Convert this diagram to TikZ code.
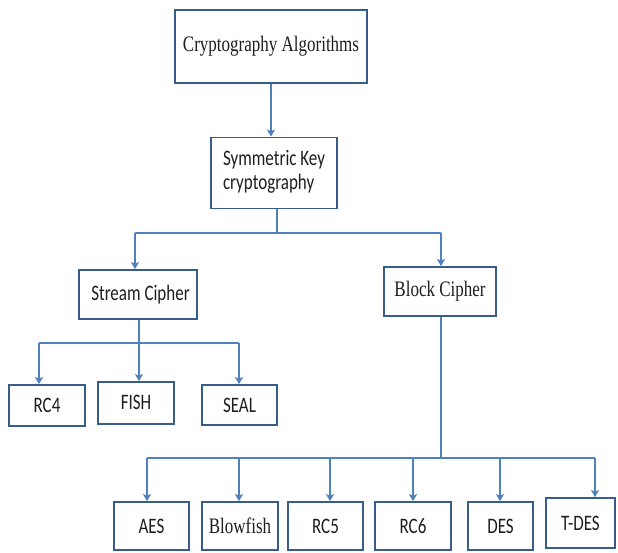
\documentclass[tikz,border=0pt]{standalone}
\usepackage{graphicx}
\usepackage{fontspec}
\setmainfont{Liberation Serif}
\newfontfamily\calfont{Carlito}
\usetikzlibrary{arrows.meta}
\definecolor{boxblue}{RGB}{56,93,138}
\definecolor{lineblue}{RGB}{79,129,189}
\definecolor{txt}{RGB}{30,30,30}
\newcommand\tallt[1]{\scalebox{1}[1.3]{#1}}
\begin{document}
\begin{tikzpicture}[x=1pt,y=-1pt,
  box/.style={draw=boxblue,line width=1.8pt,fill=white,text=txt,inner sep=0pt,font=\fontsize{17}{18}\selectfont},
  sbox/.style={box,font=\calfont\fontsize{17}{18}\selectfont},
  conn/.style={draw=lineblue,line width=2pt},
  arr/.style={conn,-{Stealth[length=7pt,width=8pt,inset=1.5pt]}}]
\useasboundingbox (0,0) rectangle (618,553);
% nodes
\node[box,minimum width=192pt,minimum height=73pt] (top) at (271,46.5) {\raisebox{3pt}{\tallt{Cryptography Algorithms}}};
\node[sbox,minimum width=126pt,minimum height=71pt] (sym) at (274,173) {\tallt{\begin{tabular}{@{}l@{}}Symmetric Key\\cryptography\end{tabular}}};
\node[sbox,minimum width=118pt,minimum height=49pt] (stream) at (138,294.5) {\hspace{5pt}\tallt{Stream Cipher}};
\node[box,minimum width=112pt,minimum height=49pt] (block) at (440,291.5) {\raisebox{4pt}{\tallt{Block Cipher}}};
\node[sbox,minimum width=76pt,minimum height=41pt] (rc4) at (47,405.5) {\tallt{RC4}};
\node[sbox,minimum width=76pt,minimum height=42pt] (fish) at (136,403) {\raisebox{2pt}{\tallt{FISH}}};
\node[sbox,minimum width=75pt,minimum height=40pt] (seal) at (239.5,405) {\tallt{SEAL}};
\node[sbox,minimum width=75pt,minimum height=48pt] (aes) at (151.5,526) {\tallt{AES}};
\node[box,minimum width=76pt,minimum height=48pt] (blow) at (240,526) {\tallt{Blowfish}};
\node[sbox,minimum width=75pt,minimum height=48pt] (rc5) at (325.5,526) {\tallt{RC5}};
\node[sbox,minimum width=76pt,minimum height=48pt] (rc6) at (413,526) {\tallt{RC6}};
\node[sbox,minimum width=65pt,minimum height=48pt] (des) at (500.5,526) {\tallt{DES}};
\node[sbox,minimum width=69pt,minimum height=50pt] (tdes) at (580.5,523) {\tallt{T-DES}};
% junction coordinates
\coordinate (jS) at (277,233);
\coordinate (jL) at (135,233);
\coordinate (jR) at (441,233);
\coordinate (kS) at (139,343);
\coordinate (k1) at (39,343);
\coordinate (k3) at (239,343);
\coordinate (mB) at (441,458);
\coordinate (m1) at (147,458);
\coordinate (m2) at (239,458);
\coordinate (m3) at (330,458);
\coordinate (m4) at (413,458);
\coordinate (m5) at (500,458);
\coordinate (m6) at (595,458);
% connectors
\draw[arr] (top.south) -- (top.south |- sym.north);
\draw[conn] (sym.south -| jS) -- (jS);
\draw[conn] (jL) -- (jR);
\draw[arr] (jL) -- (jL |- stream.north);
\draw[arr] (jR) -- (jR |- block.north);
\draw[conn] (stream.south -| kS) -- (kS);
\draw[conn] (k1) -- (k3);
\draw[arr] (k1) -- (k1 |- rc4.north);
\draw[arr] (kS) -- (kS |- fish.north);
\draw[arr] (k3) -- (k3 |- seal.north);
\draw[conn] (block.south -| mB) -- (mB);
\draw[conn] (m1) -- (m6);
\draw[arr] (m1) -- (m1 |- aes.north);
\draw[arr] (m2) -- (m2 |- blow.north);
\draw[arr] (m3) -- (m3 |- rc5.north);
\draw[arr] (m4) -- (m4 |- rc6.north);
\draw[arr] (m5) -- (m5 |- des.north);
\draw[arr] (m6) -- (m6 |- tdes.north);
\end{tikzpicture}
\end{document}
